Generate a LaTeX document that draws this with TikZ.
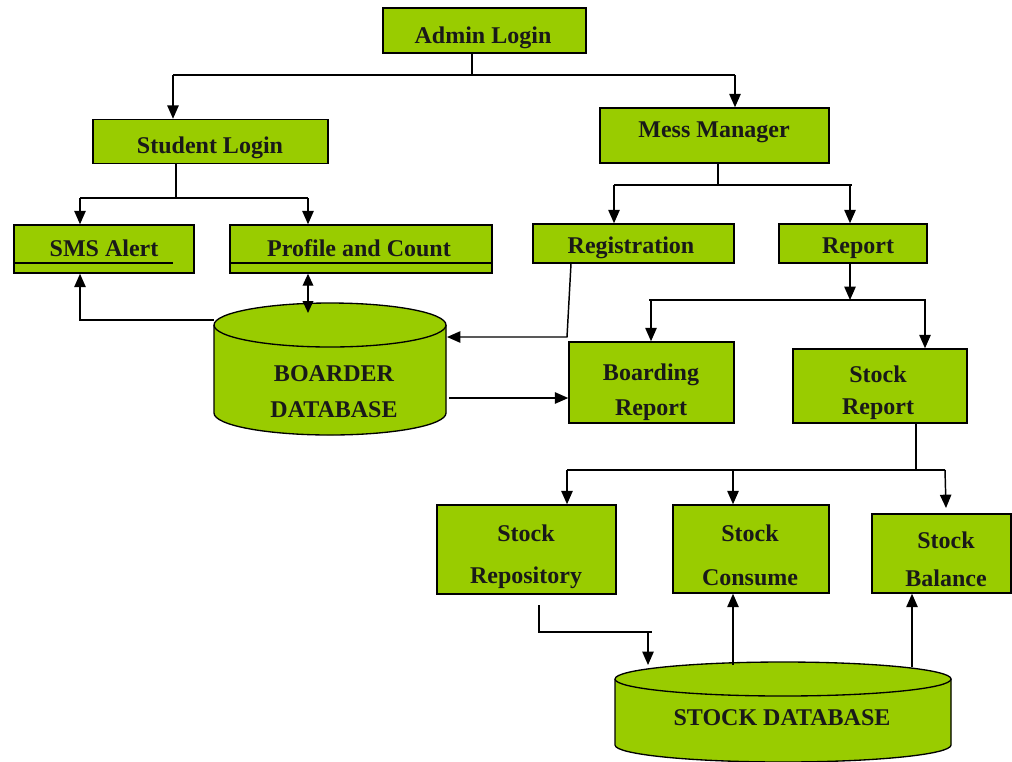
\documentclass[tikz,border=0pt]{standalone}
\usepackage{fontspec}
\setmainfont{Liberation Serif}
\usetikzlibrary{arrows.meta}
\definecolor{boxgreen}{HTML}{99CC00}
\tikzset{
  bx/.style 2 args={draw=black, line width=1.1pt, fill=boxgreen, inner sep=0pt,
    minimum width=#1*0.75pt, minimum height=#2*0.75pt},
  txt/.style={inner sep=0pt, font=\fontsize{18}{21}\selectfont\bfseries, text=black!90},
  conn/.style={draw=black, line width=1.1pt},
  arr/.style={conn, -{Triangle[width=8.5pt,length=10pt]}},
  darr/.style={conn, {Triangle[width=8pt,length=9pt]}-{Triangle[width=8pt,length=9pt]}},
  cyl/.style={fill=boxgreen, draw=black, line width=1pt}
}
\begin{document}
\begin{tikzpicture}[x=0.75pt,y=-0.75pt]
\useasboundingbox (0,0) rectangle (1012,761);
% boxes
\node[bx={203}{45}] (admin) at (484.5,30.5) {};
\node[txt] at (483,38) {Admin Login};
\node[bx={235}{44}] (student) at (210.5,141.5) {};
\node[txt] at (210,148) {Student Login};
\node[bx={229}{55}] (mess) at (714.5,135.5) {};
\node[txt] at (714,132) {Mess Manager};
\node[bx={180}{48}] (sms) at (104,249) {};
\draw[conn] (14,263) -- (173,263);
\node[txt] at (104,248) {SMS Alert};
\node[bx={262}{48}] (profile) at (361,249) {};
\draw[conn] (230,263) -- (492,263);
\node[txt] at (359,248) {Profile and Count};
\node[bx={201}{39}] (reg) at (633.5,243.5) {};
\node[txt] at (631,248) {Registration};
\node[bx={148}{39}] (report) at (853,243.5) {};
\node[txt] at (858,248) {Report};
\node[bx={165}{81}] (boarding) at (651.5,382.5) {};
\node[txt] at (651,375) {Boarding};
\node[txt] at (651,410) {Report};
\node[bx={174}{74}] (stockrep) at (880,386) {};
\node[txt] at (878,374) {Stock};
\node[txt] at (878,409) {Report};
\node[bx={179}{89}] (repo) at (526.5,549.5) {};
\node[txt] at (526,533) {Stock};
\node[txt] at (526,578) {Repository};
\node[bx={156}{88}] (consume) at (751,549) {};
\node[txt] at (750,533) {Stock};
\node[txt] at (750,578) {Consume};
\node[bx={139}{79}] (balance) at (941.5,553.5) {};
\node[txt] at (946,540) {Stock};
\node[txt] at (946,578) {Balance};
% boarder database cylinder
\path[fill=boxgreen] (214,325) -- (214,413) arc[start angle=180,end angle=360,x radius=87pt,y radius=16.5pt] -- (446,325) -- cycle;
\draw[cyl] (214,325) -- (214,413) arc[start angle=180,end angle=360,x radius=87pt,y radius=16.5pt] -- (446,325);
\draw[cyl] (330,325) ellipse[x radius=87pt,y radius=16.5pt];
\node[txt] (bdb1) at (334,374) {BOARDER};
\node[txt] (bdb2) at (334,410) {DATABASE};
\coordinate (bdbtop) at (308,313);
\coordinate (bdbleft) at (214,320);
\coordinate (bdbright) at (447,337);
\coordinate (bdbout) at (449,398);
% stock database cylinder
\path[fill=boxgreen] (615,679) -- (615,745) arc[start angle=180,end angle=360,x radius=126pt,y radius=12.75pt] -- (951,679) -- cycle;
\draw[cyl] (615,679) -- (615,745) arc[start angle=180,end angle=360,x radius=126pt,y radius=12.75pt] -- (951,679);
\draw[cyl] (783,679) ellipse[x radius=126pt,y radius=12.75pt];
\node[txt] (sdb) at (782,718) {STOCK DATABASE};
\coordinate (sdbin) at (648,665);
\coordinate (sdbc) at (733,665);
\coordinate (sdbb) at (912,667);
% connectors
\draw[conn] (472,0 |- admin.south) -- (472,75);
\draw[conn] (173,75) -- (735,75);
\draw[arr] (173,75) -- (173,0 |- student.north);
\draw[arr] (735,75) -- (735,0 |- mess.north);
\draw[conn] (176,0 |- student.south) -- (176,198);
\draw[conn] (80,198) -- (308,198);
\draw[arr] (80,198) -- (80,0 |- sms.north);
\draw[arr] (308,198) -- (308,0 |- profile.north);
\draw[conn] (718,0 |- mess.south) -- (718,185);
\draw[conn] (614,185) -- (852,185);
\draw[arr] (614,185) -- (614,0 |- reg.north);
\draw[arr] (850,185) -- (850,0 |- report.north);
\draw[darr] (308,0 |- profile.south) -- (bdbtop);
\draw[arr] (bdbleft) -- (80,320) -- (80,0 |- sms.south);
\draw[arr] (571,0 |- reg.south) -- (567,337) -- (bdbright);
\draw[arr] (bdbout) -- (boarding.west |- bdbout);
\draw[arr] (850,0 |- report.south) -- (850,300);
\draw[conn] (649,300) -- (926,300);
\draw[arr] (651,300) -- (651,0 |- boarding.north);
\draw[arr] (925,300) -- (925,0 |- stockrep.north);
\draw[conn] (916,0 |- stockrep.south) -- (916,470);
\draw[conn] (567,470) -- (916,470) -- (945,470);
\draw[arr] (567,470) -- (567,0 |- repo.north);
\draw[arr] (733,470) -- (733,0 |- consume.north);
\draw[arr] (945,470) -- (946,508);
\draw[conn] (539,605) -- (539,632) -- (652,632);
\draw[arr] (648,632) -- (sdbin);
\draw[arr] (sdbc) -- (733,0 |- consume.south);
\draw[arr] (sdbb) -- (912,0 |- balance.south);
\end{tikzpicture}
\end{document}
